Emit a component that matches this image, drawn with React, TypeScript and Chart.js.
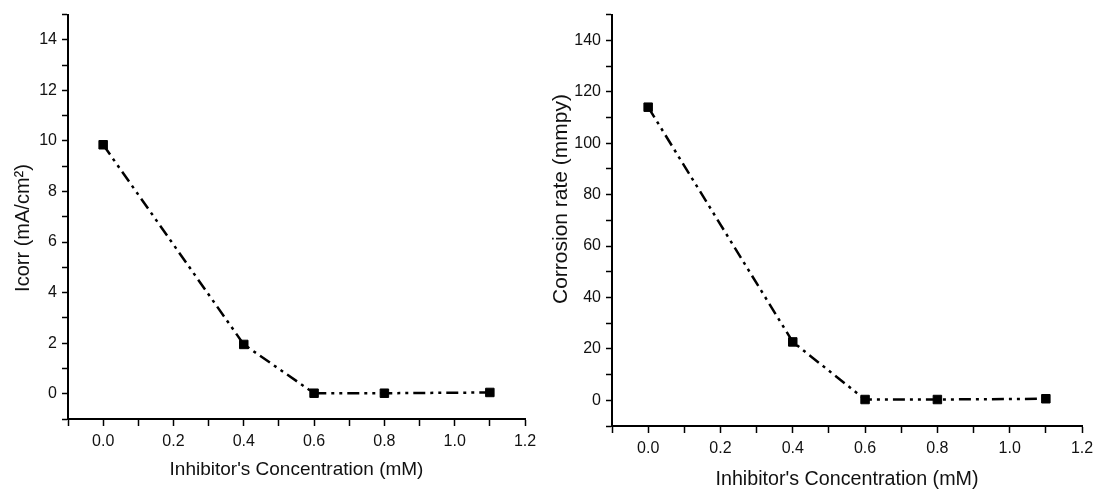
import React, { useEffect, useRef } from 'react';
import { Chart, registerables } from 'chart.js';

Chart.register(...registerables);

const FONT = "'Liberation Sans', Arial, sans-serif";

const concentrations = [0.0, 0.4, 0.6, 0.8, 1.1];
const icorrValues = [9.85, 1.95, 0.02, 0.02, 0.05];
const corrosionRates = [114, 22.7, 0.3, 0.3, 0.6];

const xLabeledTicks = [0, 0.2, 0.4, 0.6, 0.8, 1.0, 1.2];
const leftYLabeledTicks = [0, 2, 4, 6, 8, 10, 12, 14];
const rightYLabeledTicks = [0, 20, 40, 60, 80, 100, 120, 140];

const xTitle = "Inhibitor's Concentration (mM)";
const leftYTitle = 'Icorr (mA/cm²)';
const rightYTitle = 'Corrosion rate (mmpy)';

const yTitlePlugin = {
  id: 'yTitle',
  afterDraw(chart: any, _args: any, opts: any) {
    const ctx = chart.ctx;
    ctx.save();
    ctx.translate(opts.x, opts.y);
    ctx.rotate(-Math.PI / 2);
    ctx.font = `${opts.size}px ${FONT}`;
    ctx.fillStyle = '#111';
    ctx.textAlign = 'center';
    ctx.textBaseline = 'middle';
    ctx.fillText(opts.text, 0, 0);
    ctx.restore();
  },
};

type Cfg = {
  values: number[];
  yMin: number;
  yMax: number;
  yStep: number;
  yLabeled: number[];
  padTop: number;
  padRight: number;
  yWidth: number;
  xHeight: number;
  xTitleSize: number;
  xTitlePadBottom: number;
  yTitle: string;
  yTitleX: number;
  yTitleY: number;
  yTitleSize: number;
};

function makeConfig(c: Cfg): any {
  const near = (v: number, list: number[]) => list.some((t) => Math.abs(t - v) < 1e-6);
  return {
    type: 'line',
    data: {
      datasets: [
        {
          data: concentrations.map((x, i) => ({ x, y: c.values[i] })),
          borderColor: '#000',
          backgroundColor: '#000',
          borderWidth: 2.5,
          borderDash: [12, 5, 3, 5, 3, 5],
          pointStyle: 'rect',
          pointRadius: 6,
          pointBorderWidth: 1,
          pointBackgroundColor: '#000',
          pointBorderColor: '#000',
          tension: 0,
          fill: false,
        },
      ],
    },
    options: {
      responsive: false,
      animation: false,
      layout: { padding: { left: 0, top: c.padTop, right: c.padRight, bottom: 0 } },
      plugins: {
        legend: { display: false },
        tooltip: { enabled: false },
        yTitle: { text: c.yTitle, x: c.yTitleX, y: c.yTitleY, size: c.yTitleSize },
      },
      scales: {
        x: {
          type: 'linear',
          min: -0.1,
          max: 1.2,
          afterFit: (s: any) => {
            s.height = c.xHeight;
          },
          border: { display: true, color: '#000', width: 2 },
          grid: { drawOnChartArea: false, drawTicks: true, tickLength: 7, tickColor: '#000', tickWidth: 1.5 },
          ticks: {
            stepSize: 0.1,
            autoSkip: false,
            maxRotation: 0,
            padding: 6,
            color: '#111',
            font: { family: FONT, size: 16 },
            callback: (v: number) => (near(v, xLabeledTicks) ? v.toFixed(1) : ''),
          },
          title: {
            display: true,
            text: xTitle,
            color: '#111',
            font: { family: FONT, size: c.xTitleSize },
            padding: { top: 0, bottom: c.xTitlePadBottom },
          },
        },
        y: {
          type: 'linear',
          min: c.yMin,
          max: c.yMax,
          afterFit: (s: any) => {
            s.width = c.yWidth;
          },
          border: { display: true, color: '#000', width: 2 },
          grid: { drawOnChartArea: false, drawTicks: true, tickLength: 6, tickColor: '#000', tickWidth: 1.5 },
          ticks: {
            stepSize: c.yStep,
            autoSkip: false,
            padding: 5,
            color: '#111',
            font: { family: FONT, size: 16 },
            callback: (v: number) => (near(v, c.yLabeled) ? String(Math.round(v)) : ''),
          },
        },
      },
    },
    plugins: [yTitlePlugin],
  };
}

function ChartCanvas({ cfg, left, width }: { cfg: Cfg; left: number; width: number }) {
  const ref = useRef<HTMLCanvasElement>(null);
  useEffect(() => {
    if (!ref.current) return;
    const chart = new Chart(ref.current, makeConfig(cfg));
    return () => chart.destroy();
  }, []);
  return (
    <canvas
      ref={ref}
      width={width}
      height={496}
      style={{ position: 'absolute', left, top: 0, width, height: 496 }}
    />
  );
}

const leftCfg: Cfg = {
  values: icorrValues,
  yMin: -1,
  yMax: 15,
  yStep: 1,
  yLabeled: leftYLabeledTicks,
  padTop: 12,
  padRight: 25,
  yWidth: 68,
  xHeight: 77,
  xTitleSize: 19,
  xTitlePadBottom: 14.6,
  yTitle: leftYTitle,
  yTitleX: 23,
  yTitleY: 228,
  yTitleSize: 20,
};

const rightCfg: Cfg = {
  values: corrosionRates,
  yMin: -10,
  yMax: 150,
  yStep: 10,
  yLabeled: rightYLabeledTicks,
  padTop: 7,
  padRight: 19,
  yWidth: 67,
  xHeight: 70,
  xTitleSize: 19.7,
  xTitlePadBottom: 4.2,
  yTitle: rightYTitle,
  yTitleX: 16,
  yTitleY: 199,
  yTitleSize: 21,
};

export default function App() {
  return (
    <div style={{ position: 'absolute', left: 0, top: 0, width: 1101, height: 496, background: '#fff' }}>
      <ChartCanvas cfg={leftCfg} left={0} width={550} />
      <ChartCanvas cfg={rightCfg} left={545} width={556} />
    </div>
  );
}
